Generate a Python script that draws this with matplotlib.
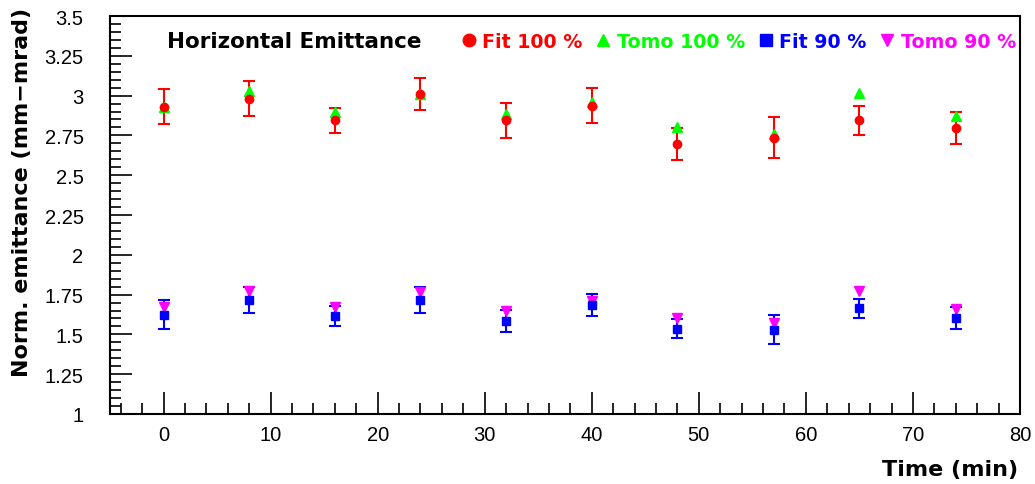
import numpy as np
import matplotlib
matplotlib.use('Agg')
import matplotlib.pyplot as plt
from matplotlib.ticker import MultipleLocator

# data
time_min = [0, 8, 16, 24, 32, 40, 48, 57, 65, 74]

fit100 = [2.93, 2.98, 2.845, 3.01, 2.845, 2.935, 2.695, 2.735, 2.845, 2.795]
fit100_err = [0.11, 0.11, 0.08, 0.10, 0.11, 0.11, 0.10, 0.13, 0.09, 0.10]
tomo100 = [2.93, 3.03, 2.895, 3.01, 2.885, 2.96, 2.80, 2.76, 3.015, 2.87]

fit90 = [1.625, 1.715, 1.615, 1.715, 1.585, 1.685, 1.535, 1.53, 1.665, 1.605]
fit90_err = [0.09, 0.08, 0.065, 0.08, 0.07, 0.07, 0.06, 0.09, 0.06, 0.07]
tomo90 = [1.67, 1.77, 1.67, 1.765, 1.645, 1.71, 1.605, 1.57, 1.77, 1.66]

colors = ['red', '#00ff00', 'blue', 'magenta']

fig = plt.figure(figsize=(10.35, 4.85), dpi=100)
ax = fig.add_axes([110 / 1035, 70 / 485, 910 / 1035, 398 / 485])

ax.errorbar(time_min, fit100, yerr=fit100_err, fmt='o', color=colors[0], ms=6,
            capsize=4, elinewidth=1.5, capthick=1.5)
ax.plot(time_min, tomo100, '^', color=colors[1], ms=7)
ax.errorbar(time_min, fit90, yerr=fit90_err, fmt='s', color=colors[2], ms=6,
            capsize=4, elinewidth=1.5, capthick=1.5)
ax.plot(time_min, tomo90, 'v', color=colors[3], ms=7)

ax.set_xlim(-5, 80)
ax.set_ylim(1, 3.5)
ax.xaxis.set_major_locator(MultipleLocator(10))
ax.xaxis.set_minor_locator(MultipleLocator(2))
ax.yaxis.set_major_locator(MultipleLocator(0.25))
ax.yaxis.set_minor_locator(MultipleLocator(0.05))
ax.yaxis.set_major_formatter(plt.FuncFormatter(lambda v, p: ('%g' % v)))

ax.tick_params(which='both', direction='in', top=False, right=False, width=1.2)
ax.tick_params(which='major', length=16)
ax.tick_params(which='minor', length=8)
ax.tick_params(axis='x', pad=8)
ax.tick_params(axis='y', pad=19)
for lab in ax.get_xticklabels() + ax.get_yticklabels():
    lab.set_fontfamily('Liberation Sans')
    lab.set_fontsize(14.5)
for sp in ax.spines.values():
    sp.set_linewidth(1.5)

ax.set_ylabel('Norm. emittance (mm\u2212mrad)', fontsize=16, family='DejaVu Sans',
              weight='bold')
ax.yaxis.set_label_coords(-0.0857, 0.56)
ax.set_xlabel('Time (min)', fontsize=16, family='DejaVu Sans', weight='bold', ha='right')
ax.xaxis.set_label_coords(0.998, -0.113)

ax.text(0.0626, 0.937, 'Horizontal Emittance', transform=ax.transAxes,
        fontsize=15.5, weight='bold', va='center', ha='left')

# legend: marker + coloured text
handles = [plt.Line2D([], [], ls='none', marker=m, color=c, ms=9)
           for m, c in zip(['o', '^', 's', 'v'], colors)]
labels = ['Fit 100 %', 'Tomo 100 %', 'Fit 90 %', 'Tomo 90 %']
leg = ax.legend(handles, labels, loc='center right', bbox_to_anchor=(0.9956, 0.937),
                ncol=4, frameon=False, borderpad=0, borderaxespad=0,
                handletextpad=0.2, columnspacing=0.6, handlelength=1.0,
                prop={'family': 'DejaVu Sans', 'size': 13.7, 'weight': 'bold'})
for t, c in zip(leg.get_texts(), colors):
    t.set_color(c)

fig.savefig('out.png', dpi=100)
